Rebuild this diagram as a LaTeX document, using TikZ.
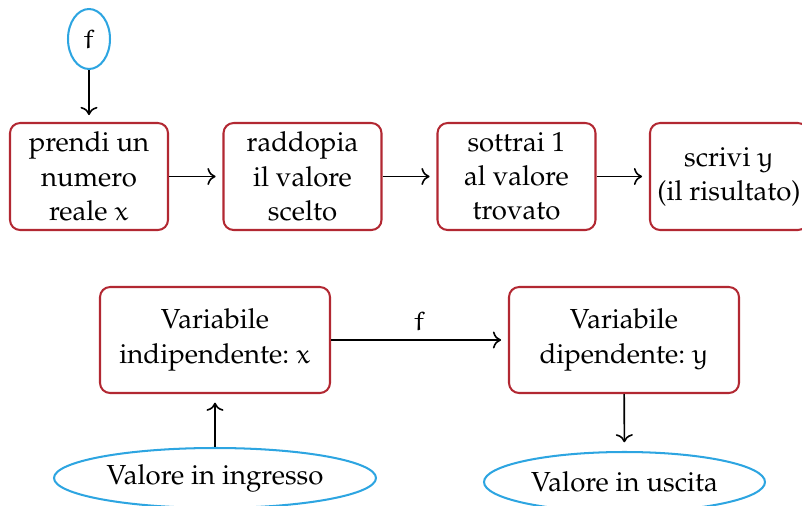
\documentclass[tikz,border=0pt]{standalone}
\usepackage[T1]{fontenc}
\usepackage{mathpazo}
\usetikzlibrary{shapes.geometric,arrows.meta}
\definecolor{boxred}{RGB}{178,40,50}
\definecolor{ellblue}{RGB}{45,165,225}
\newcommand\eul[1]{{\usefont{U}{eur}{m}{n}#1}}
\begin{document}
\begin{tikzpicture}[x=0.345pt,y=-0.345pt,
  font=\fontsize{9.5}{11.8}\selectfont,
  stepbox/.style={draw=boxred,line width=0.7pt,rounded corners=3.5pt,align=center,
    minimum width=158*0.345pt,minimum height=107*0.345pt,inner sep=0pt},
  bigbox/.style={draw=boxred,line width=0.7pt,rounded corners=3.5pt,align=center,
    minimum width=230*0.345pt,minimum height=106*0.345pt,inner sep=0pt},
  oval/.style={draw=ellblue,line width=0.7pt,ellipse,inner sep=0pt},
  conn/.style={->,line width=0.55pt,shorten >=2.4pt}]
\useasboundingbox (0,0) rectangle (802,506);
\node[oval,minimum width=42*0.345pt,minimum height=60*0.345pt] (f) at (89,39) {\eul{f}};
\node[stepbox] (b1) at (89,176.5) {prendi un\\numero\\reale \eul{x}};
\node[stepbox] (b2) at (302.5,176.5) {raddopia\\il valore\\scelto};
\node[stepbox] (b3) at (516.5,176.5) {sottrai 1\\al valore\\trovato};
\node[stepbox] (b4) at (729,176.5) {scrivi \eul{y}\\(il risultato)};
\draw[conn] (f) -- (b1);
\draw[conn] (b1) -- (b2);
\draw[conn] (b2) -- (b3);
\draw[conn] (b3) -- (b4);
\node[bigbox] (b5) at (215,340) {Variabile\\indipendente:\ \eul{x}};
\node[bigbox] (b6) at (624,340) {Variabile\\dipendente:\ \eul{y}};
\node[oval,minimum width=322*0.345pt,minimum height=60*0.345pt] (e1) at (215,478) {Valore in ingresso};
\node[oval,minimum width=281*0.345pt,minimum height=60*0.345pt] (e2) at (624.5,482) {Valore in uscita};
\draw[conn] (b5) -- node[above=-0.5pt] {\eul{f}} (b6);
\draw[conn,shorten >=3pt] (e1) -- (b5);
\draw[conn,shorten >=3pt] (b6) -- (e2);
\end{tikzpicture}
\end{document}
